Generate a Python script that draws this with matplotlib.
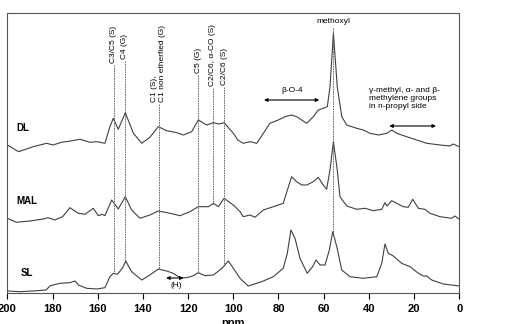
import matplotlib
matplotlib.use('Agg')
import matplotlib.pyplot as plt
import numpy as np

plt.rcParams['font.family'] = ['Liberation Sans', 'DejaVu Sans']

# 读图估出来的谱线数据 (ppm, 相对强度)
dl_ppm = [200, 195, 188.5, 182.6, 179.8, 176, 172, 167.8, 163.4, 160.4, 156.8, 154.6, 153.1,
          150.9, 147.8, 144.2, 140.5, 136.9, 133.2, 129.5, 125, 122.1, 118.4, 115.5, 111.8,
          108.8, 106.5, 104, 100, 98, 95.6, 92.6, 89.6, 86.7, 83.8, 80.1, 77.1, 74.2, 72,
          67.5, 64.6, 62.4, 60.2, 58.4, 57.2, 55.7, 54, 52, 49.8, 45.4, 42.5, 39.5, 35.8,
          32.1, 29.9, 27.7, 23.3, 18.8, 14.4, 8.5, 4.1, 2.7, 0]
dl_int = [5, -1.7, 3.3, 6.7, 5, 7.7, 9, 10.7, 7.7, 8.3, 6.7, 23.3, 31.7,
          20.7, 37.3, 16.7, 6.7, 12.7, 23.3, 19.3, 17.3, 15, 18.3, 30, 25,
          27.3, 26, 27.3, 16.7, 10, 6.7, 8.3, 6.7, 16.7, 26.7, 30, 33.3, 35, 33.3,
          26.7, 33.3, 40, 41.7, 43.3, 63.3, 117, 63.3, 33.3, 25, 21.7, 20, 16.7, 15,
          16.7, 20, 16.7, 13.3, 10, 6.7, 5, 4, 6, 3.3]

mal_ppm = [200, 196, 190, 184, 182, 179, 175.5, 172.3, 168.6, 165.6, 162, 159.7, 158, 156.8,
           153.8, 150.9, 147.8, 145, 141.3, 136.9, 133.2, 128, 123.6, 119.2, 115.5, 111,
           108.8, 106.6, 104.1, 100, 97, 95.6, 92.6, 90.4, 86.7, 82.3, 77.9, 74.2, 72, 69.7,
           67.5, 64.6, 62.4, 60.2, 58.7, 57.2, 55.7, 54, 52.8, 49.8, 45.4, 41.7, 38, 34.3,
           32.9, 32, 29.9, 27.7, 24.8, 22.6, 20.6, 18.1, 15.2, 13, 8.5, 3.4, 1.9, 0]
mal_int = [3.7, -0.3, 1, 3, 4.3, 2, 5.3, 14.3, 8.7, 7.7, 13.7, 6.3, 7.7, 6.3,
           22, 13, 25.3, 12, 3.7, 7, 11, 8.7, 6.3, 10.3, 15.3, 15.3,
           18.7, 15.3, 23.7, 17, 10.3, 5.3, 7, 4.7, 12, 15.3, 18.7, 45.3, 40.3, 37,
           37, 40.3, 44.7, 37, 32.7, 52, 80.3, 52, 25.3, 16, 12.7, 13.7, 11.3, 12.7,
           19.3, 16, 21.3, 18.7, 15.3, 14.7, 22.7, 13.7, 12.7, 8.7, 5.3, 3.7, 6, 2.7]

sl_ppm = [200, 194.4, 188.5, 182.9, 181, 176.7, 172.3, 170, 168.6, 164.9, 160.4, 156.8, 154.6,
          153.1, 151.3, 149, 147.6, 145, 140.5, 136.9, 133.2, 129.5, 126.6, 123.6, 120.6,
          117.7, 115.5, 112.6, 108.8, 105, 102.2, 100, 97, 93.4, 87.4, 82.3, 77.9, 76.1,
          74.5, 72.7, 70.5, 67.3, 64.9, 63.4, 61.6, 59.4, 57.5, 56, 54.2, 52, 48.4, 42.5,
          36.5, 34.3, 32.9, 31.4, 29.2, 25.5, 21.8, 18.1, 15.9, 14.4, 12.2, 7.1, 0]
sl_int = [1, 0.3, 1, 2, 6.3, 8.7, 9.3, 11, 7, 3.7, 3, 4.3, 15.3,
          18.7, 17.7, 24, 31, 20.3, 12, 17, 23, 21, 18.7, 14.3, 14.3,
          16.3, 19.3, 16.3, 17, 23.7, 31, 23.7, 13.7, 6, 10.3, 15.3, 23.7, 38.7,
          62, 53.7, 33.7, 18.7, 25.3, 32, 27, 27, 42, 60.3, 45.3, 22, 15.3, 13.7,
          15.3, 28.7, 48, 38.7, 36, 28.7, 25.3, 18.7, 16, 16, 12, 8, 6]

names = ['DL', 'MAL', 'SL']

# 标注的化学位移
peak_ppm = [153, 148, 133, 115.5, 109, 104]
peak_txt = ['C3/C5 (S)', 'C4 (G)', 'C1 (S),\nC1 non etherfied (G)', 'C5 (G)',
            'C2/C6, \u03b1-CO (S)', 'C2/C6 (S)']
methoxyl_ppm = 55.7

fig = plt.figure(figsize=(5.08, 3.24), dpi=100)
ax = fig.add_axes([0.0144, 0.0957, 0.8897, 0.8642])

offsets = [143, 71, 1]
traces = [(dl_ppm, dl_int), (mal_ppm, mal_int), (sl_ppm, sl_int)]
for (xs, ys), off in zip(traces, offsets):
    ax.plot(xs, np.array(ys) + off, color='#404040', lw=0.8)

# 左边的样品名
ax.text(196, 165, 'DL', fontsize=7, fontweight='bold', va='center')
ax.text(196, 92, 'MAL', fontsize=7, fontweight='bold', va='center')
ax.text(194, 20, 'SL', fontsize=7, fontweight='bold', va='center')

# 竖虚线 + 旋转标签
label_bottom = [230, 234, 191, 220, 207, 208]
sl_y = np.interp(peak_ppm, sl_ppm[::-1], sl_int[::-1]) + offsets[2]
mal_y = np.interp(peak_ppm, mal_ppm[::-1], mal_int[::-1]) + offsets[1]
for i, (p, t, yb) in enumerate(zip(peak_ppm, peak_txt, label_bottom)):
    yend = mal_y[i] if p == 109 else sl_y[i]
    ax.plot([p, p], [yb - 2, yend], color='#555555', lw=0.6, ls=(0, (2, 1)))
    ax.text(p, yb, t, rotation=90, ha='center', va='bottom', fontsize=6,
            multialignment='left')

sl_meth = np.interp(methoxyl_ppm, sl_ppm[::-1], sl_int[::-1]) + offsets[2]
ax.plot([methoxyl_ppm, methoxyl_ppm], [265, sl_meth], color='#555555', lw=0.6, ls=(0, (2, 1)))
ax.text(methoxyl_ppm, 271, 'methoxyl', ha='center', va='center', fontsize=6)

arrow = dict(arrowstyle='<|-|>', lw=0.8, color='black', mutation_scale=5,
             shrinkA=0, shrinkB=0)
ax.annotate('', xy=(86.4, 193), xytext=(62, 193), arrowprops=arrow)
ax.text(74, 202, '\u03b2-O-4', ha='center', va='center', fontsize=6)

ax.text(40, 206, '\u03b3-methyl, \u03b1- and \u03b2-\nmethylene groups\nin n-propyl side',
        ha='left', va='top', fontsize=6, linespacing=1.25)
ax.annotate('', xy=(31, 167), xytext=(10.3, 167), arrowprops=arrow)

ax.annotate('', xy=(129.7, 15), xytext=(122, 15), arrowprops=arrow)
ax.text(125.2, 7, '(H)', ha='center', va='center', fontsize=6)

ax.set_xlim(200, 0)
ax.set_ylim(0, 280)
ax.set_yticks([])
ax.set_xticks(np.arange(200, -1, -20))
ax.tick_params(axis='x', direction='out', length=4, width=0.8, pad=4, labelsize=8)
for lab in ax.get_xticklabels():
    lab.set_fontweight('bold')
ax.set_xlabel('ppm', fontsize=8, fontweight='bold', labelpad=3)
for s in ax.spines.values():
    s.set_color('#555555')
    s.set_linewidth(0.8)

fig.savefig('out.png', dpi=100)
